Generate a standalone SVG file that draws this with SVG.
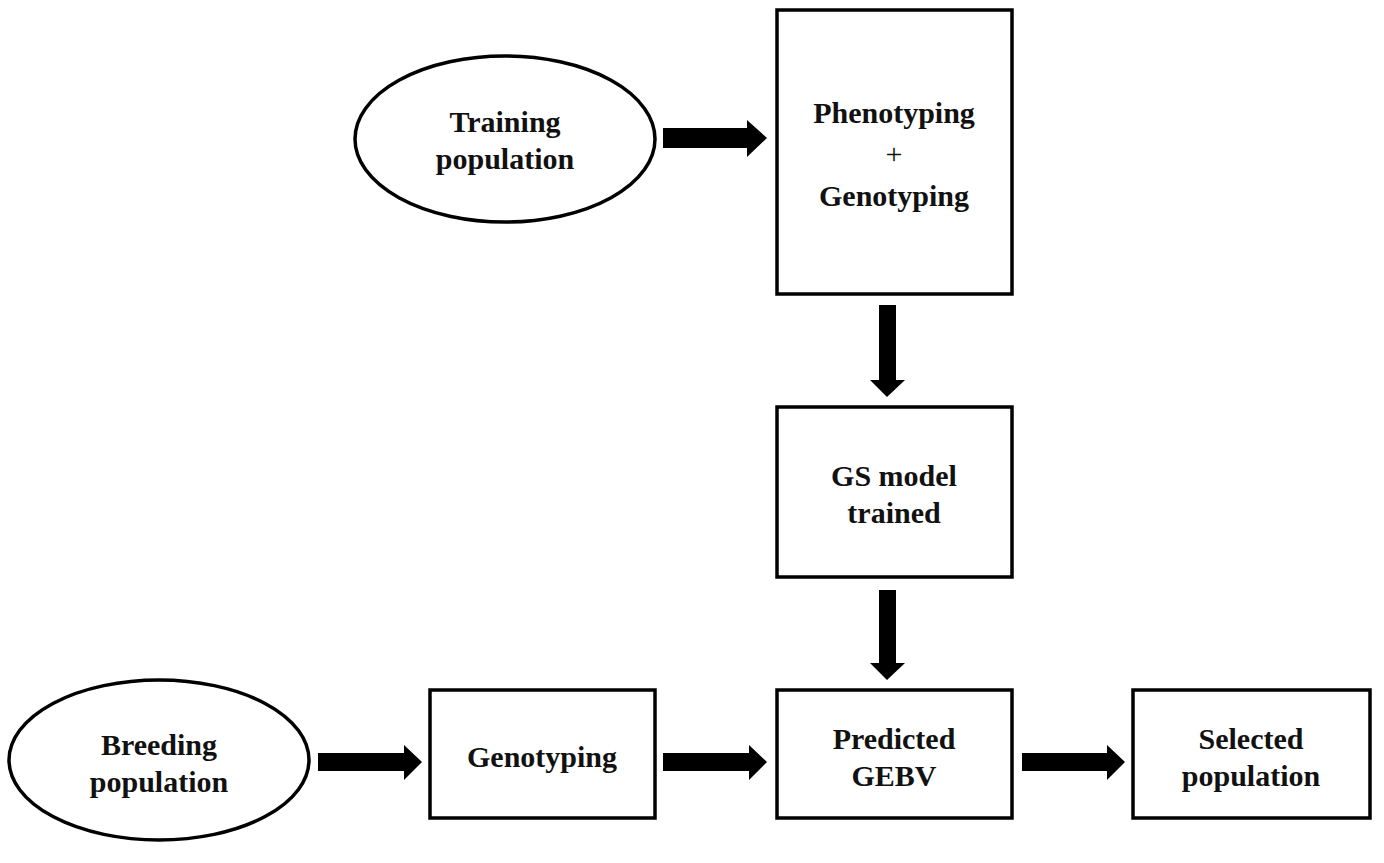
<svg xmlns="http://www.w3.org/2000/svg" width="1384" height="863" viewBox="0 0 1384 863">
<style>
.shape{fill:#fff;stroke:#000;stroke-width:3.5}
.t{font-family:"Liberation Serif","Times New Roman",serif;font-weight:bold;font-size:30px;fill:#111;text-anchor:middle}
.plus{font-weight:normal}
.arr{fill:#000}
</style>
<rect width="1384" height="863" fill="#fff"/>
<g id="training"><ellipse class="shape" cx="505" cy="139" rx="150" ry="83"/><text class="t" x="505" y="132">Training</text><text class="t" x="505" y="169">population</text></g>
<g id="phenogeno"><rect class="shape" x="777" y="10" width="235" height="284"/><text class="t" x="894" y="123">Phenotyping</text><text class="t plus" x="894" y="164">+</text><text class="t" x="894" y="206">Genotyping</text></g>
<g id="gsmodel"><rect class="shape" x="777" y="407" width="235" height="170"/><text class="t" x="894" y="486">GS model</text><text class="t" x="894" y="523">trained</text></g>
<g id="breeding"><ellipse class="shape" cx="159" cy="760" rx="150" ry="80"/><text class="t" x="159" y="755">Breeding</text><text class="t" x="159" y="792">population</text></g>
<g id="genotyping"><rect class="shape" x="430" y="690" width="225" height="128"/><text class="t" x="542" y="767">Genotyping</text></g>
<g id="predicted"><rect class="shape" x="777" y="690" width="235" height="128"/><text class="t" x="894" y="749">Predicted</text><text class="t" x="894" y="786">GEBV</text></g>
<g id="selected"><rect class="shape" x="1133" y="690" width="237" height="128"/><text class="t" x="1251" y="749">Selected</text><text class="t" x="1251" y="786">population</text></g>
<g id="connectors">
<polygon class="arr" points="663,128 747,128 747,120 767,138 747,157 747,148 663,148"/>
<polygon class="arr" points="879,305 896,305 896,380 905,380 887,397 870,380 879,380"/>
<polygon class="arr" points="879,590 896,590 896,663 905,663 887,680 870,663 879,663"/>
<polygon class="arr" points="318,753 404,753 404,745 422,762 404,780 404,771 318,771"/>
<polygon class="arr" points="663,753 749,753 749,745 767,762 749,780 749,771 663,771"/>
<polygon class="arr" points="1022,753 1107,753 1107,745 1125,762 1107,780 1107,771 1022,771"/>
</g>
</svg>
